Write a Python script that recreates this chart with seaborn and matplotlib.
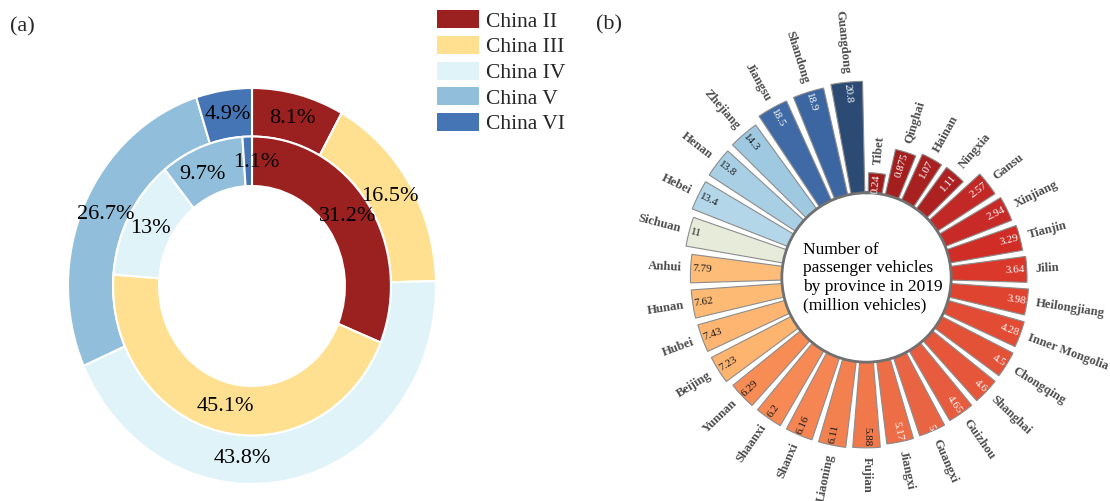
import numpy as np
import matplotlib
matplotlib.use("Agg")
import matplotlib.pyplot as plt
from matplotlib.patches import Patch
from matplotlib.ticker import NullLocator
import seaborn as sns

# ---- (a) share of emission standards (%), outer and inner ring ----
standards = ["China II", "China III", "China IV", "China V", "China VI"]
outer_share = [8.1, 16.5, 43.8, 26.7, 4.9]
inner_share = [31.2, 45.1, 13.0, 9.7, 1.1]

# ---- (b) passenger vehicles by province in 2019 (million vehicles) ----
provinces = ["Tibet", "Qinghai", "Hainan", "Ningxia", "Gansu", "Xinjiang",
             "Tianjin", "Jilin", "Heilongjiang", "Inner Mongolia", "Chongqing",
             "Shanghai", "Guizhou", "Guangxi", "Jiangxi", "Fujian", "Liaoning",
             "Shanxi", "Shaanxi", "Yunnan", "Beijing", "Hubei", "Hunan",
             "Anhui", "Sichuan", "Hebei", "Henan", "Zhejiang", "Jiangsu",
             "Shandong", "Guangdong"]
vehicles = [0.24, 0.875, 1.07, 1.11, 2.57, 2.94, 3.29, 3.64, 3.98, 4.28, 4.5,
            4.6, 4.65, 5, 5.17, 5.88, 6.11, 6.16, 6.2, 6.29, 7.23, 7.43, 7.62,
            7.79, 11, 13.4, 13.8, 14.3, 18.5, 18.9, 20.8]

sns.set_theme(style="white")
plt.rcParams["font.family"] = ["Liberation Serif", "DejaVu Serif"]

std_colors = ["#9b2020"] + sns.color_palette(["#fee090", "#e0f3f8", "#91bfdb", "#4575b4"]).as_hex()
bar_colors = ["#a11c1c", "#a41e1e", "#a82020", "#ad2121", "#c22826", "#c82a27",
              "#d02d27", "#d9382b", "#df4430", "#e24c34", "#e35137", "#e5563a",
              "#e75c3e", "#e96442", "#ec6d46", "#f0784b", "#f3804f", "#f58552",
              "#f68954", "#f88c55", "#fdb46f", "#fdb571", "#fdba75", "#fdbd78",
              "#e7ebd9", "#b3d6e8", "#a9cfe4", "#9fc8e1", "#3f6aa5", "#3c66a1",
              "#2c4b74"]

W, H = 1110, 501
fig = plt.figure(figsize=(W / 100, H / 100), dpi=100)

# ================= (a) double donut =================
ax1 = fig.add_axes([22 / W, 10 / H, 460 / W, 480 / H])
edge = dict(edgecolor="white", linewidth=1.5)
w_out, _ = ax1.pie(outer_share, radius=1.0, colors=std_colors, startangle=90,
                   counterclock=False, wedgeprops=dict(width=0.245, **edge))
w_in, _ = ax1.pie(inner_share, radius=0.755, colors=std_colors, startangle=90,
                  counterclock=False, wedgeprops=dict(width=0.25, **edge))
ax1.set_aspect("auto")
ax1.set_xlim(-230 / 184, 230 / 184)
ax1.set_ylim(-205 / 198, 275 / 198)


def put_pct(wedges, values, r, nudge=None):
    nudge = nudge or {}
    for k, (w, v) in enumerate(zip(wedges, values)):
        mid = np.radians((w.theta1 + w.theta2) / 2 + nudge.get(k, 0))
        ax1.text(r * np.cos(mid), r * np.sin(mid), f"{v:g}%", ha="center",
                 va="center", fontsize=16, color="black")


put_pct(w_out, outer_share, 0.875, nudge={2: -16})
put_pct(w_in, inner_share, 0.625, nudge={3: 4, 4: -4})

handles = [Patch(facecolor=c, edgecolor="none") for c in std_colors]
fig.legend(handles, standards, loc="upper left", bbox_to_anchor=(433 / W, 1 - 6 / H),
           frameon=False, fontsize=15.5, handlelength=1.95, handleheight=0.9,
           handletextpad=0.3, labelspacing=0.2, borderaxespad=0, borderpad=0.2)

fig.text(10 / W, 1 - 27 / H, "(a)", fontsize=16, va="center", ha="left")
fig.text(596 / W, 1 - 25 / H, "(b)", fontsize=16, va="center", ha="left")

# ================= (b) circular bar chart (log radial scale) =================
ax2 = fig.add_axes([666.5 / W, 23.5 / H, 400 / W, 400 / H], projection="polar")
ax2.set_theta_zero_location("N")
ax2.set_theta_direction(-1)
ax2.set_rscale("log")

n = len(vehicles)
step = 2 * np.pi / n
theta = (np.arange(n) + 0.5) * step
base = 0.09
vals = np.asarray(vehicles)
ax2.bar(theta, vals - base, width=0.8 * step, bottom=base, color=bar_colors,
        edgecolor="#8c8c8c", linewidth=0.8, align="center")
ax2.set_ylim(base, 25)
ax2.set_rorigin(10 ** -2.84)

ax2.set_xticks([])
ax2.yaxis.set_major_locator(NullLocator())
ax2.yaxis.set_minor_locator(NullLocator())
ax2.grid(False)
ax2.set_facecolor("none")
ax2.spines["polar"].set_visible(False)
ax2.spines["inner"].set_color("#707070")
ax2.spines["inner"].set_linewidth(2)

for i, (name, v) in enumerate(zip(provinces, vals)):
    ang = np.degrees(theta[i])
    right = i < n / 2
    rot = 90 - ang if right else 270 - ang
    ax2.text(theta[i], v * 1.55, name, rotation=rot, rotation_mode="anchor",
             ha="left" if right else "right", va="center", fontsize=9.2,
             fontweight="bold", color="#4d4d4d")
    dark = i <= 14 or i >= 28
    ax2.text(theta[i], v * 0.93, f"{v:g}", rotation=rot, rotation_mode="anchor",
             ha="right" if right else "left", va="center", fontsize=8,
             color="white" if dark else "#1a1a1a")

ax2.text(0.515, 0.5, "Number of\npassenger vehicles\nby province in 2019\n(million vehicles)",
         transform=ax2.transAxes, ha="center", va="center", multialignment="left",
         fontsize=12.5, color="black")

fig.savefig("out.png", dpi=100)
